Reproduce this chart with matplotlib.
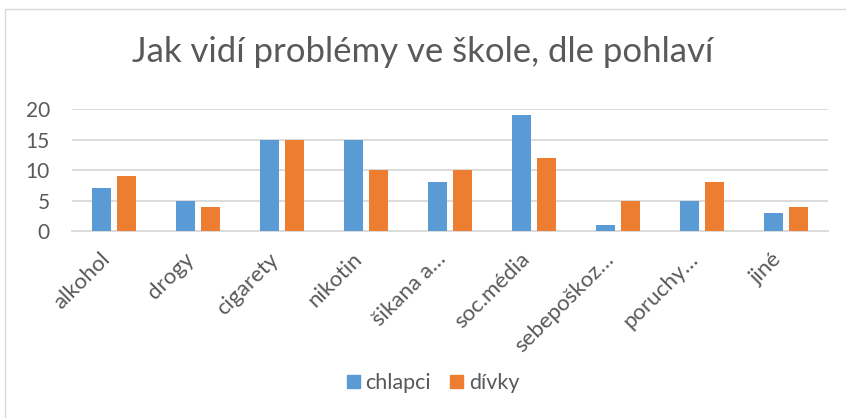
import matplotlib
matplotlib.use("Agg")
import matplotlib.pyplot as plt
import numpy as np
from matplotlib.patches import Rectangle
from matplotlib.transforms import ScaledTranslation

categories = ["alkohol", "drogy", "cigarety", "nikotin", "šikana a…", "soc.média",
              "sebepoškoz…", "poruchy…", "jiné"]
chlapci = [7, 5, 15, 15, 8, 19, 1, 5, 3]
divky = [9, 4, 15, 10, 10, 12, 5, 8, 4]
yticks = [0, 5, 10, 15, 20]

plt.rcParams['font.family'] = ['Lato', 'DejaVu Sans']
W, H = 846, 418
fig = plt.figure(figsize=(W / 100, H / 100), dpi=100)
fig.patch.set_facecolor('white')

# chart border
fig.add_artist(Rectangle((5 / W, -0.1), 1.2, 1 - 9 / H + 0.1, transform=fig.transFigure,
                         fill=False, edgecolor='#D9D9D9', linewidth=1.0))

ax = fig.add_axes([72 / W, 1 - 231 / H, (828 - 72) / W, (231 - 109) / H])
x = np.arange(len(categories))
bw = 0.226
off = 0.143
ax.bar(x - off, chlapci, width=bw, color='#5B9BD5', zorder=3)
ax.bar(x + off, divky, width=bw, color='#ED7D31', zorder=3)

ax.set_xlim(-0.5, len(categories) - 0.5)
ax.set_ylim(0, 20)
ax.set_yticks(yticks)
ax.set_yticklabels([str(v) for v in yticks], fontsize=15, color='#595959')
ax.yaxis.grid(True, color='#D9D9D9', linewidth=1.3, zorder=0)
ax.set_axisbelow(True)
for s in ['top', 'right', 'left']:
    ax.spines[s].set_visible(False)
ax.spines['bottom'].set_color('#D9D9D9')
ax.spines['bottom'].set_linewidth(1.3)
ax.tick_params(axis='both', length=0)
ax.tick_params(axis='y', pad=16)

ax.set_xticks(x)
ax.set_xticklabels(categories, rotation=45, ha='right', va='top', fontsize=16, color='#595959')
shift = ScaledTranslation(13 / 100, 0, fig.dpi_scale_trans)
for lbl in ax.get_xticklabels():
    lbl.set_transform(lbl.get_transform() + shift)
ax.tick_params(axis='x', pad=13)

fig.text(0.5, 1 - 52 / H, "Jak vidí problémy ve škole, dle pohlaví", ha='center', va='center',
         fontsize=25, color='#595959')

handles = [Rectangle((0, 0), 1, 1, color='#5B9BD5'), Rectangle((0, 0), 1, 1, color='#ED7D31')]
fig.legend(handles, ['chlapci', 'dívky'], loc='center', bbox_to_anchor=(0.512, 1 - 383 / H),
           ncol=2, frameon=False, fontsize=15.5, labelcolor='#595959',
           handlelength=0.6, handleheight=0.6, handletextpad=0.25, columnspacing=0.9)

fig.savefig('out.png', dpi=100, facecolor='white')
